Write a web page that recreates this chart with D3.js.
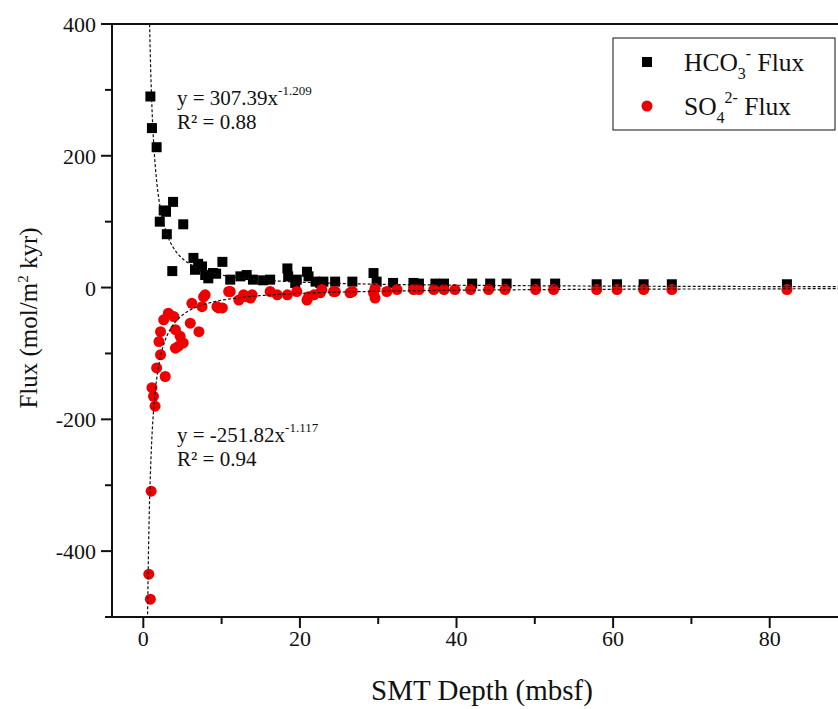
<meta charset="utf-8">
<style>
  body { margin: 0; background: #fff; }
  text { font-family: "Liberation Serif", "Times New Roman", serif; fill: #111; }
  .axis path, .axis line { stroke: #111; }
</style>
<div id="chart"></div>
<script src="https://cdn.jsdelivr.net/npm/d3@7"></script>
<script>
// HCO3- flux (black squares): depth (mbsf), flux (mol/m2 kyr)
var hco3Depth = [0.9, 1.1, 1.7, 2.1, 2.6, 2.9, 3.0, 3.7, 3.8, 5.1, 6.4, 6.6, 7.0, 7.5, 7.9, 8.3, 8.9, 9.3, 10.1,
  11.1, 12.4, 13.2, 14.0, 15.3, 16.2, 18.4, 18.5, 19.4, 19.6, 20.9, 21.1, 22.0, 22.6, 23.0, 24.5, 26.7, 29.4, 29.8,
  31.9, 34.5, 35.2, 37.3, 38.4, 42.0, 44.3, 46.4, 50.1, 52.6, 57.9, 60.5, 63.9, 67.5, 82.2];
var hco3Flux = [290, 242, 213, 100, 117, 115, 81, 25, 130, 96, 45, 27, 36, 32, 19, 14, 22, 21, 39,
  12, 17, 19, 12, 11, 12, 29, 17, 7, 12, 24, 17, 9, 7, 9, 9, 9, 22, 9,
  7, 7, 6, 6, 6, 6, 6, 6, 6, 6, 5, 5, 5, 5, 5];

// SO4 2- flux (red circles)
var so4Depth = [0.7, 0.9, 1.0, 1.1, 1.3, 1.5, 1.7, 2.8, 2.2, 2.0, 2.2, 2.6, 3.2, 3.9, 4.5, 4.1, 5.1, 4.7, 4.1, 6.0,
  7.1, 6.2, 7.5, 7.9, 7.7, 9.4, 9.6, 10.1, 10.9, 11.1, 12.2, 12.8, 13.2, 13.7, 13.9, 16.2, 17.1, 18.4, 19.6,
  20.9, 21.1, 21.8, 22.6, 22.8, 24.3, 24.5, 26.4, 26.7, 29.4, 29.6, 29.6, 31.1, 32.4, 34.5, 35.2, 37.1, 38.4,
  39.8, 41.8, 44.1, 46.2, 50.1, 52.4, 57.9, 60.5, 63.9, 67.5, 82.2];
var so4Flux = [-435, -473, -309, -152, -165, -180, -122, -135, -67, -82, -102, -49, -39, -44, -89, -92, -84, -74, -64, -54,
  -67, -24, -29, -11, -14, -29, -31, -31, -6, -6, -19, -11, -14, -16, -11, -6, -11, -11, -6,
  -19, -14, -11, -8, -3, -6, -6, -8, -6, -8, -16, -1, -6, -3, -3, -3, -3, -3,
  -3, -3, -3, -3, -3, -3, -3, -3, -3, -3, -3];

// power-law fits shown on the chart
var hco3Fit = {a: 307.39, b: -1.209};
var so4Fit = {a: -251.82, b: -1.117};

var xMajor = [0, 20, 40, 60, 80], xMinor = [10, 30, 50, 70, 90];
var yMajor = [400, 200, 0, -200, -400], yMinor = [300, 100, -100, -300, -500];

var W = 838, H = 709;
var margin = {top: 24, left: 112, bottom: 92};
var x = d3.scaleLinear().domain([-4, 90]).range([margin.left, 848]);
var y = d3.scaleLinear().domain([-500, 400]).range([H - margin.bottom, margin.top]);

var svg = d3.select("#chart").append("svg")
    .attr("width", W)
    .attr("height", H);

svg.append("defs").append("clipPath").attr("id", "clip")
  .append("rect")
    .attr("x", margin.left).attr("y", margin.top)
    .attr("width", 848 - margin.left).attr("height", y(-500) - margin.top);

// frame
svg.append("rect")
    .attr("x", margin.left).attr("y", margin.top)
    .attr("width", 848 - margin.left).attr("height", y(-500) - margin.top)
    .attr("fill", "none").attr("stroke", "#111").attr("stroke-width", 2);

// axes: major and minor ticks
function tickMarks(g, vals, len, horiz) {
  g.selectAll("line.t" + len).data(vals).enter().append("line")
    .attr("stroke", "#111").attr("stroke-width", 2)
    .attr("x1", function (d) { return horiz ? x(d) : margin.left; })
    .attr("x2", function (d) { return horiz ? x(d) : margin.left - len; })
    .attr("y1", function (d) { return horiz ? y(-500) : y(d); })
    .attr("y2", function (d) { return horiz ? y(-500) + len : y(d); });
}
var ax = svg.append("g").attr("class", "axis");
tickMarks(ax, xMajor, 11, true);
tickMarks(ax, xMinor.filter(function (d) { return x(d) < W; }), 7, true);
tickMarks(ax, yMajor, 11, false);
tickMarks(ax, yMinor, 7, false);

ax.selectAll("text.xl").data(xMajor).enter().append("text")
    .attr("x", function (d) { return x(d); })
    .attr("y", y(-500) + 29)
    .attr("text-anchor", "middle")
    .style("font-size", "22px")
    .text(function (d) { return d; });
ax.selectAll("text.yl").data(yMajor).enter().append("text")
    .attr("x", margin.left - 16)
    .attr("y", function (d) { return y(d) + 8; })
    .attr("text-anchor", "end")
    .style("font-size", "22px")
    .text(function (d) { return d; });

// axis titles
svg.append("text")
    .attr("x", 482).attr("y", 700)
    .attr("text-anchor", "middle")
    .style("font-size", "29px")
    .text("SMT Depth (mbsf)");
var yt = svg.append("text")
    .attr("transform", "translate(37," + 318 + ") rotate(-90)")
    .attr("text-anchor", "middle")
    .style("font-size", "25px");
yt.append("tspan").text("Flux (mol/m");
yt.append("tspan").attr("dy", -9).style("font-size", "15px").text("2");
yt.append("tspan").attr("dy", 9).text(" kyr)");

var plot = svg.append("g").attr("clip-path", "url(#clip)");

// data points
plot.selectAll("rect.hco3").data(d3.range(hco3Depth.length)).enter().append("rect")
    .attr("x", function (i) { return x(hco3Depth[i]) - 5; })
    .attr("y", function (i) { return y(hco3Flux[i]) - 5; })
    .attr("width", 10).attr("height", 10)
    .attr("fill", "#000");
plot.selectAll("circle.so4").data(d3.range(so4Depth.length)).enter().append("circle")
    .attr("cx", function (i) { return x(so4Depth[i]); })
    .attr("cy", function (i) { return y(so4Flux[i]); })
    .attr("r", 5.5)
    .attr("fill", "#ee0000");

// fitted curves
function fitLine(f) {
  var xs = d3.range(0.3, 95, 0.05);
  return d3.line()
    .x(function (d) { return x(d); })
    .y(function (d) { return y(f.a * Math.pow(d, f.b)); })(xs);
}
[hco3Fit, so4Fit].forEach(function (f) {
  plot.append("path")
    .attr("d", fitLine(f))
    .attr("fill", "none")
    .attr("stroke", "#111")
    .attr("stroke-width", 1.2)
    .attr("stroke-dasharray", "3,2");
});

// equation labels
function equation(px, py, coef, expo, r2) {
  var t = svg.append("text").attr("x", px).attr("y", py).style("font-size", "21px");
  t.append("tspan").text("y = " + coef + "x");
  t.append("tspan").attr("dy", -10).style("font-size", "13px").text(expo);
  svg.append("text").attr("x", px).attr("y", py + 24).style("font-size", "21px").text("R\u00b2 = " + r2);
}
equation(177, 105, "307.39", "-1.209", "0.88");
equation(177, 442, "-251.82", "-1.117", "0.94");

// legend
var lg = svg.append("g");
lg.append("rect")
    .attr("x", 613).attr("y", 38).attr("width", 222).attr("height", 92)
    .attr("fill", "#fff").attr("stroke", "#111").attr("stroke-width", 1);
lg.append("rect").attr("x", 642).attr("y", 57).attr("width", 10).attr("height", 10).attr("fill", "#000");
lg.append("circle").attr("cx", 647).attr("cy", 106).attr("r", 5.5).attr("fill", "#ee0000");
var l1 = lg.append("text").attr("x", 684).attr("y", 71).style("font-size", "25.5px");
l1.append("tspan").text("HCO");
l1.append("tspan").attr("dy", 8).style("font-size", "16px").text("3");
l1.append("tspan").attr("dy", -20).style("font-size", "16px").text("-");
l1.append("tspan").attr("dy", 12).text(" Flux");
var l2 = lg.append("text").attr("x", 684).attr("y", 115).style("font-size", "25.5px");
l2.append("tspan").text("SO");
l2.append("tspan").attr("dy", 8).style("font-size", "16px").text("4");
l2.append("tspan").attr("dy", -20).style("font-size", "16px").text("2-");
l2.append("tspan").attr("dy", 12).text(" Flux");
</script>
